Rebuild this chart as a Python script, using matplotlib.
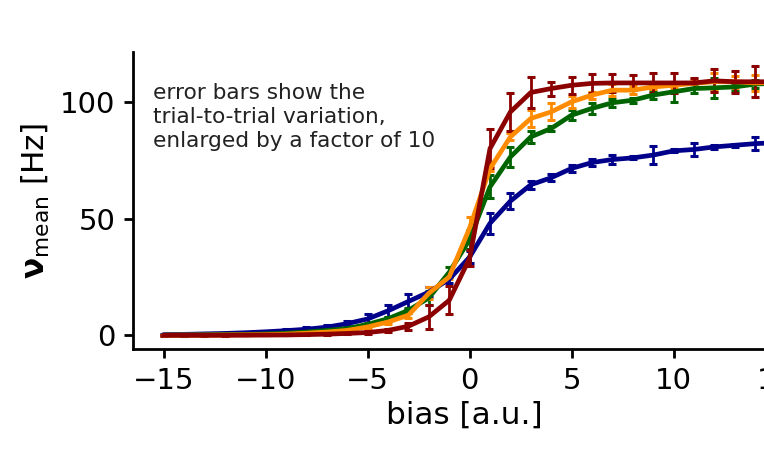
#!/usr/bin/env python
"""
Mean firing rate vs. bias for four conditions, with trial-to-trial error bars
"""

import matplotlib
matplotlib.use("Agg")
import matplotlib.pyplot as plt
import numpy as np

# bias values (integer steps)
bias = list(range(-15, 16))

# mean rates [Hz], one list per curve
rate_blue = [0.3, 0.4, 0.6, 0.8, 1.1, 1.5, 2.0, 2.6, 3.5, 5.0, 7.0, 10.5, 14.5, 18.5, 24.0,
             33.5, 48.0, 57.5, 64.5, 67.5, 71.5, 74.0, 75.3, 76.0, 77.2, 79.0, 79.6, 80.7, 81.4, 82.1, 82.5]
rate_green = [0.1, 0.1, 0.2, 0.3, 0.4, 0.6, 0.9, 1.4, 2.1, 2.9, 4.7, 7.1, 10.7, 16.0, 27.0,
              41.0, 63.6, 76.4, 85.0, 88.6, 94.3, 97.2, 99.6, 100.7, 102.9, 104.3, 105.7, 106.0, 106.4, 107.6, 108.0]
rate_orange = [0.05, 0.1, 0.1, 0.15, 0.2, 0.3, 0.5, 0.9, 1.4, 2.1, 3.6, 5.7, 8.6, 18.0, 25.0,
               46.0, 71.4, 85.0, 92.9, 95.7, 100.0, 102.9, 105.0, 105.0, 106.4, 107.1, 107.9, 108.6, 108.6, 108.1, 108.3]
rate_red = [0.0, 0.0, 0.0, 0.0, 0.05, 0.1, 0.15, 0.3, 0.5, 0.8, 1.2, 2.1, 3.9, 7.9, 15.0,
            33.0, 80.0, 95.7, 104.0, 105.7, 107.1, 107.9, 108.1, 108.1, 108.1, 108.1, 108.1, 109.0, 108.6, 108.6, 108.6]

# trial-to-trial variation (x10), half lengths
err_blue = [0.2, 0.2, 0.3, 0.3, 0.4, 0.5, 0.6, 0.8, 1.0, 1.2, 2.0, 2.5, 3.2, 2.0, 1.5,
            2.5, 4.6, 3.6, 1.8, 1.4, 1.4, 1.6, 1.8, 0.6, 3.9, 0.6, 2.9, 1.0, 0.7, 2.9, 1.5]
err_green = [0.1, 0.1, 0.1, 0.1, 0.1, 0.1, 0.1, 0.1, 0.3, 0.4, 0.6, 0.8, 1.0, 3.0, 2.2,
             4.0, 5.0, 4.3, 2.5, 1.0, 2.0, 2.5, 1.8, 1.0, 1.8, 4.3, 1.8, 4.3, 1.8, 1.8, 2.0]
err_orange = [0.1, 0.1, 0.1, 0.1, 0.1, 0.1, 0.1, 0.2, 0.3, 0.4, 0.6, 0.8, 1.0, 2.5, 1.0,
              4.5, 1.0, 1.5, 3.6, 3.6, 2.5, 1.5, 2.5, 1.8, 1.0, 1.0, 1.8, 3.9, 2.5, 3.6, 2.0]
err_red = [0.1, 0.1, 0.1, 0.1, 0.1, 0.1, 0.2, 0.2, 0.3, 0.4, 0.5, 0.6, 1.5, 5.0, 6.0,
           3.5, 8.5, 8.0, 6.6, 3.0, 3.7, 4.0, 3.7, 3.2, 4.3, 4.4, 2.0, 5.0, 4.8, 6.7, 4.0]

colors = ["#00008B", "#006400", "#FF8C00", "#8B0000"]

plt.rcParams['font.family'] = ['DejaVu Sans']
plt.rcParams['mathtext.fontset'] = 'dejavusans'

fig = plt.figure(figsize=(7.64, 4.49), dpi=100)
# axes run past the right edge of the figure, as in the original crop
ax = fig.add_axes([0.174, 0.222, 0.868, 0.663])

series = [(rate_blue, err_blue), (rate_green, err_green),
          (rate_orange, err_orange), (rate_red, err_red)]
for (rate, err), col in zip(series, colors):
    ax.errorbar(bias, rate, yerr=err, color=col, linewidth=3.4,
                elinewidth=2.0, capsize=3.2, capthick=2.2,
                solid_joinstyle='round', solid_capstyle='round')

ax.set_xlim(-16.5, 16)
ax.set_ylim(-6, 121.5)
ax.set_xticks([-15, -10, -5, 0, 5, 10, 15])
ax.set_yticks([0, 50, 100])

for side in ['top', 'right']:
    ax.spines[side].set_visible(False)
for side in ['left', 'bottom']:
    ax.spines[side].set_linewidth(2.0)

ax.tick_params(axis='both', labelsize=21, length=6.5, width=2.0, pad=6)

ax.set_xlabel('bias [a.u.]', fontsize=22.4, labelpad=4)
ax.set_ylabel(r'$\mathbf{\nu}_{\mathrm{mean}}$ [Hz]', fontsize=22.4, labelpad=6)

fig.text(153 / 764, 1 - 83 / 449,
         'error bars show the\ntrial-to-trial variation,\nenlarged by a factor of 10',
         fontsize=15.6, va='top', ha='left', color='#222222', linespacing=1.25)

fig.savefig('out.png', dpi=100)
